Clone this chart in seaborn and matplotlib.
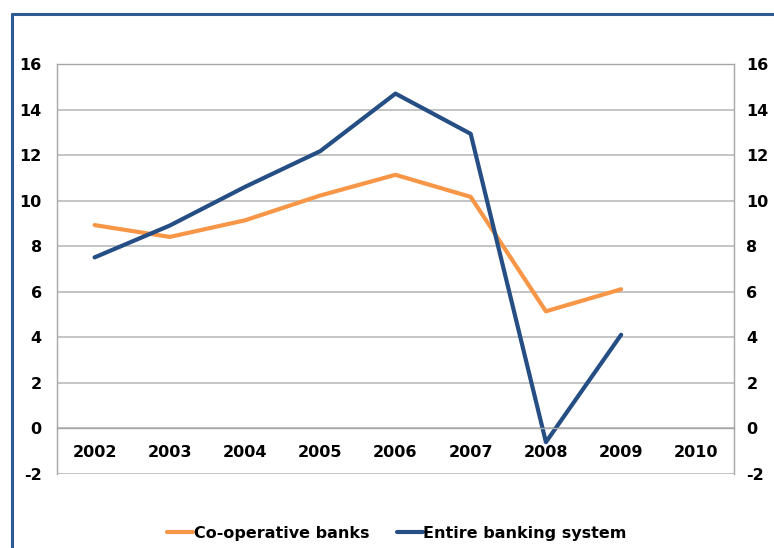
import numpy as np
import pandas as pd
import matplotlib
matplotlib.use("Agg")
import matplotlib.pyplot as plt
from matplotlib.lines import Line2D
import seaborn as sns

years = ["2002", "2003", "2004", "2005", "2006", "2007", "2008", "2009", "2010"]
data_years = ["2002", "2003", "2004", "2005", "2006", "2007", "2008", "2009"]
coop_banks = [8.92, 8.4, 9.13, 10.22, 11.13, 10.16, 5.13, 6.1]
entire_system = [7.5, 8.9, 10.6, 12.17, 14.7, 12.93, -0.62, 4.1]
series_names = ["Co-operative banks", "Entire banking system"]
y_ticks = [-2, 0, 2, 4, 6, 8, 10, 12, 14, 16]

sns.set_style("white")
plt.rcParams["font.family"] = ["DejaVu Sans"]
plt.rcParams["axes.unicode_minus"] = False
plt.rcParams["text.color"] = "black"
plt.rcParams["ytick.labelcolor"] = "black"
plt.rcParams["xtick.labelcolor"] = "black"

pos = {y: i for i, y in enumerate(years)}
df = pd.DataFrame({
    "x": [pos[y] for y in data_years] * 2,
    "value": coop_banks + entire_system,
    "series": [series_names[0]] * len(data_years) + [series_names[1]] * len(data_years),
})

fig = plt.figure(figsize=(7.74, 5.48), dpi=100)
ax = fig.add_axes([0.0736, 0.1359, 0.8747, 0.7473])

palette = {series_names[0]: "#F79646", series_names[1]: "#254E85"}
sns.lineplot(data=df, x="x", y="value", hue="series", palette=palette,
             linewidth=3.0, ax=ax, legend=False)

ax.set_xlim(-0.5, len(years) - 0.5)
ax.set_ylim(-2, 16)
ax.set_yticks(y_ticks)
ax.set_xlabel("")
ax.set_ylabel("")
ax.yaxis.grid(True, color="#BFBFBF", linewidth=1.3)
ax.set_axisbelow(True)

# x-axis crossing at zero with ticks between categories
ax.spines["bottom"].set_position(("data", 0))
ax.spines["bottom"].set_color("#A6A6A6")
ax.spines["bottom"].set_linewidth(1.0)
ax.set_xticks(np.arange(0.5, len(years) - 1, 1.0))
ax.set_xticklabels([])
ax.tick_params(axis="x", direction="out", length=4, color="#A6A6A6", width=1.0)
for s in ["left", "right", "top"]:
    ax.spines[s].set_visible(True)
    ax.spines[s].set_color("#A6A6A6")
    ax.spines[s].set_linewidth(1.0)

for i, y in enumerate(years):
    ax.text(i, -1.08, y, ha="center", va="center", fontsize=11.5,
            fontweight="bold", color="black")

ax.tick_params(axis="y", length=0, pad=11, labelsize=11.5, labelcolor="black")
for lab in ax.get_yticklabels():
    lab.set_fontweight("bold")

ax2 = ax.twinx()
ax2.set_ylim(-2, 16)
ax2.set_yticks(y_ticks)
ax2.tick_params(axis="y", length=0, pad=9, labelsize=11.5, labelcolor="black")
for lab in ax2.get_yticklabels():
    lab.set_fontweight("bold")
for s in ax2.spines.values():
    s.set_visible(False)

handles = [Line2D([], [], color=palette[n], linewidth=3.0) for n in series_names]
fig.legend(handles, series_names, loc="center", bbox_to_anchor=(0.513, 0.027),
           ncol=2, frameon=False, handlelength=1.6, handletextpad=0.05,
           columnspacing=1.75, prop={"weight": "bold", "size": 11.5})

# outer blue frame (top and left edges)
frame_color = "#2E5A94"
fig.add_artist(Line2D([12 / 774, 12 / 774], [0, 1 - 14 / 548], color=frame_color,
                      linewidth=2.2, transform=fig.transFigure))
fig.add_artist(Line2D([12 / 774, 1], [1 - 14 / 548, 1 - 14 / 548], color=frame_color,
                      linewidth=2.2, transform=fig.transFigure))

fig.savefig("out.png", dpi=100)
